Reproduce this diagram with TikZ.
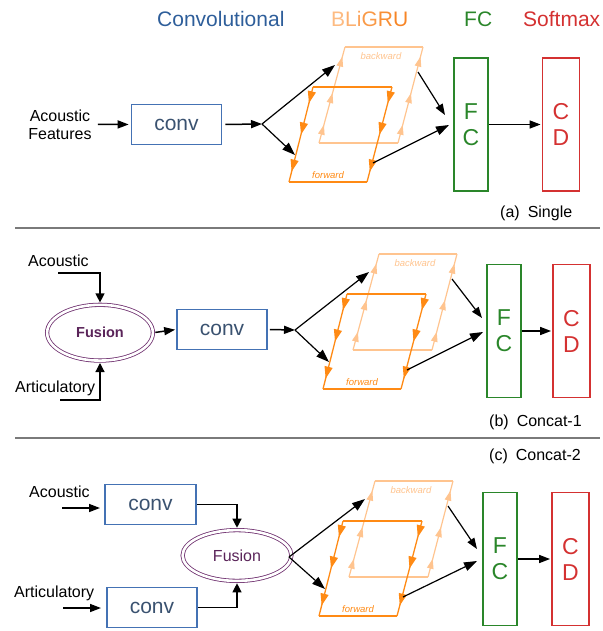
\documentclass[tikz,border=0pt]{standalone}
\usepackage{fontspec}
\setmainfont{Liberation Sans}
\usetikzlibrary{arrows.meta,shapes.geometric,decorations.markings}
\definecolor{hdrblue}{HTML}{2E5E9A}
\definecolor{boxblue}{HTML}{4472B4}
\definecolor{convtxt}{HTML}{3A5270}
\definecolor{bwcol}{HTML}{FFC48F}
\definecolor{fwcol}{HTML}{FF8A14}
\definecolor{fcgreen}{HTML}{2A862A}
\definecolor{cdred}{HTML}{D43131}
\definecolor{fuspurple}{HTML}{6E2F6E}
\definecolor{fustext}{HTML}{5A2459}
\definecolor{sepgrey}{HTML}{7A7A7A}
\definecolor{gA}{HTML}{FDBB82}
\definecolor{gB}{HTML}{FCB070}
\definecolor{gC}{HTML}{FBA45C}
\definecolor{gD}{HTML}{F99A48}
\definecolor{gE}{HTML}{F88F35}
\definecolor{gF}{HTML}{F78525}
\tikzset{
  every node/.style={inner sep=0pt},
  hdr/.style={anchor=base west, font=\fontsize{21}{25}\selectfont},
  lbl/.style={anchor=base west, font=\fontsize{16}{18}\selectfont},
  convbox/.style={draw=boxblue, line width=1.7pt, minimum width=90pt, minimum height=40pt, text=convtxt, font=\fontsize{21}{25}\selectfont},
  fcbox/.style={draw=fcgreen, line width=1.8pt, minimum width=34pt, minimum height=133pt, text=fcgreen, align=center, font=\fontsize{23}{26}\selectfont},
  cdbox/.style={draw=cdred, line width=1.8pt, minimum width=37pt, minimum height=133pt, text=cdred, align=center, font=\fontsize{23}{26}\selectfont},
  fusion/.style={ellipse, draw=fuspurple, double=white, line width=0.8pt, double distance=2.6pt, text=fustext},
  conn/.style={line width=1.5pt, -{Triangle[length=11pt,width=8pt]}},
  diag/.style={line width=1.2pt, -{Triangle[length=13pt,width=9pt]}},
  elbow/.style={line width=1.2pt, -{Triangle[length=9pt,width=9pt]}, shorten >=2pt},
  bwplain/.style={draw=bwcol, line width=1.2pt},
  fwplain/.style={draw=fwcol, line width=1.3pt},
  bwedge/.style={draw=bwcol, line width=1.2pt, decoration={markings,
      mark=at position 0.19 with {\arrow[bwcol]{Triangle[length=10pt,width=6.5pt]}},
      mark=at position 0.52 with {\arrow[bwcol]{Triangle[length=10pt,width=6.5pt]}},
      mark=at position 0.9 with {\arrow[bwcol]{Triangle[length=10pt,width=6.5pt]}}}, postaction={decorate}},
  fwedge/.style={draw=fwcol, line width=1.3pt, decoration={markings,
      mark=at position 0.17 with {\arrow[fwcol]{Triangle[length=12pt,width=8pt]}},
      mark=at position 0.5 with {\arrow[fwcol]{Triangle[length=12pt,width=8pt]}},
      mark=at position 0.89 with {\arrow[fwcol]{Triangle[length=12pt,width=8pt]}}}, postaction={decorate}},
  bwlab/.style={text=bwcol, font=\itshape\fontsize{9.5}{11}\selectfont},
  fwlab/.style={text=fwcol, font=\itshape\fontsize{9.5}{11}\selectfont},
  sep/.style={draw=sepgrey, line width=2.2pt}
}
\newcommand\bligrupair{%
  \coordinate (bwTL) at (345,47);
  \coordinate (bwTR) at (423,47);
  \coordinate (bwBR) at (398,143);
  \coordinate (bwBL) at (319,143);
  \coordinate (fwTL) at (313,87);
  \coordinate (fwTR) at (392,87);
  \coordinate (fwBR) at (367,182);
  \coordinate (fwBL) at (289,182);
  \draw[bwplain] (bwTL) -- (bwTR);
  \draw[bwplain] (bwBL) -- (bwBR);
  \draw[bwedge] (bwBL) -- (bwTL);
  \draw[bwedge] (bwBR) -- (bwTR);
  \node[bwlab] (bwlab) at (381,56) {backward};
  \draw[fwplain] (fwTL) -- (fwTR);
  \draw[fwplain] (fwBL) -- (fwBR);
  \draw[fwedge] (fwTL) -- (fwBL);
  \draw[fwedge] (fwTR) -- (fwBR);
  \node[fwlab] (fwlab) at (328,175) {forward};
  \coordinate (in1) at (335,65);
  \coordinate (in2) at (295,155);
  \coordinate (out1) at (418,72);
  \coordinate (out2) at (373,163);
}
\begin{document}
\begin{tikzpicture}[x=1pt,y=-1pt]
\useasboundingbox (0,0) rectangle (602,631);
% headers
\node[hdr, text=hdrblue] (hconv) at (157,27) {Convolutional};
\node[hdr] (hgru) at (331,27) {\textcolor{gA}{B}\textcolor{gB}{L}\textcolor{gC}{i}\textcolor{gD}{G}\textcolor{gE}{R}\textcolor{gF}{U}};
\node[hdr, text=fcgreen] (hfc) at (464,27) {FC};
\node[hdr, text=cdred] (hsm) at (523,27) {Softmax};

% ---------------- (a) Single
\node[font=\fontsize{16}{18}\selectfont, align=center] (af) at (60,124.3) {Acoustic\\Features};
\node[convbox] (conva) at (176.5,124.5) {conv};
\draw[conn, shorten <=3pt, shorten >=2pt] ([xshift=3pt]af.east) -- (conva.west);
\begin{scope}[name prefix=a-]
\bligrupair
\end{scope}
\coordinate (a-split) at (262,124);
\draw[conn, shorten <=3pt] (conva.east) -- (a-split);
\draw[diag] (a-split) -- (a-in1);
\draw[diag] (a-split) -- (a-in2);
\node[fcbox] (fca) at (471,124.5) {F\\C};
\node[cdbox] (cda) at (561,124.5) {C\\D};
\coordinate (a-fc1) at (445,115);
\coordinate (a-fc2) at (449,125);
\draw[diag, -{Triangle[length=11pt,width=8pt]}] (a-out1) -- (a-fc1);
\draw[diag] (a-out2) -- (a-fc2);
\draw[conn, shorten >=1pt] (fca.east) -- (cda.west);
\node[lbl] (lba) at (500,217) {(a)\hspace{8pt}Single};
\draw[sep] (15,228) -- (600,228);

% ---------------- (b) Concat-1
\node[fusion, minimum width=105.8pt, minimum height=55.8pt, font=\bfseries\fontsize{14.5}{17}\selectfont] (fusb) at (100,332.7) {Fusion};
\node[lbl] (b-ac) at (28,266) {Acoustic};
\coordinate (b-acs) at (58,273);
\draw[elbow] (b-acs) -| (fusb.north);
\node[lbl] (b-ar) at (15,392) {Articulatory};
\coordinate (b-ars) at (60,400);
\draw[elbow] (b-ars) -| (fusb.south);
\node[convbox] (convb) at (222,329.5) {conv};
\draw[conn, shorten <=2pt, shorten >=1pt] (fusb.east) -- (convb.west);
\begin{scope}[shift={(34,207)}, name prefix=b-]
\bligrupair
\end{scope}
\coordinate (b-split) at (295,330);
\draw[conn, shorten <=2pt] (convb.east) -- (b-split);
\draw[diag] (b-split) -- (b-in1);
\draw[diag] (b-split) -- (b-in2);
\node[fcbox] (fcb) at (504,331) {F\\C};
\node[cdbox] (cdb) at (571.5,331) {C\\D};
\coordinate (b-fc1) at (482,318);
\coordinate (b-fc2) at (483,332);
\draw[diag, -{Triangle[length=11pt,width=8pt]}] (b-out1) -- (b-fc1);
\draw[diag] (b-out2) -- (b-fc2);
\draw[conn, shorten >=1pt] (fcb.east) -- (cdb.west);
\node[lbl] (lbb) at (489,426) {(b)\hspace{8pt}Concat-1};
\draw[sep] (15,438) -- (600,438);
\node[lbl] (lbc) at (489,460) {(c)\hspace{8pt}Concat-2};

% ---------------- (c) Concat-2
\node[lbl] (c-ac) at (29,497) {Acoustic};
\node[lbl] (c-ar) at (14,597) {Articulatory};
\node[convbox, minimum width=91pt] (convc1) at (150.5,504.5) {conv};
\node[convbox] (convc2) at (152,607.5) {conv};
\coordinate (c-acs) at (62,508);
\coordinate (c-ace) at (100,508);
\draw[conn] (c-acs) -- (c-ace);
\coordinate (c-ars) at (63,608);
\coordinate (c-are) at (101,608);
\draw[conn] (c-ars) -- (c-are);
\node[fusion, minimum width=108.8pt, minimum height=50.8pt, font=\fontsize{16}{19}\selectfont] (fusc) at (237,555.5) {Fusion};
\draw[elbow] (convc1.east) -| (fusc.north);
\draw[elbow] (convc2.east) -| (fusc.south);
\begin{scope}[shift={(30,434)}, name prefix=c-]
\bligrupair
\end{scope}
\coordinate (c-split) at (289,557);
\draw[diag] (c-split) -- (c-in1);
\draw[diag] (c-split) -- (c-in2);
\node[fcbox] (fcc) at (500,559) {F\\C};
\node[cdbox] (cdc) at (570.5,559) {C\\D};
\coordinate (c-fc1) at (477,549);
\coordinate (c-fc2) at (477,561);
\draw[diag, -{Triangle[length=11pt,width=8pt]}] (c-out1) -- (c-fc1);
\draw[diag] (c-out2) -- (c-fc2);
\draw[conn, shorten >=1pt] (fcc.east) -- (cdc.west);
\end{tikzpicture}
\end{document}
